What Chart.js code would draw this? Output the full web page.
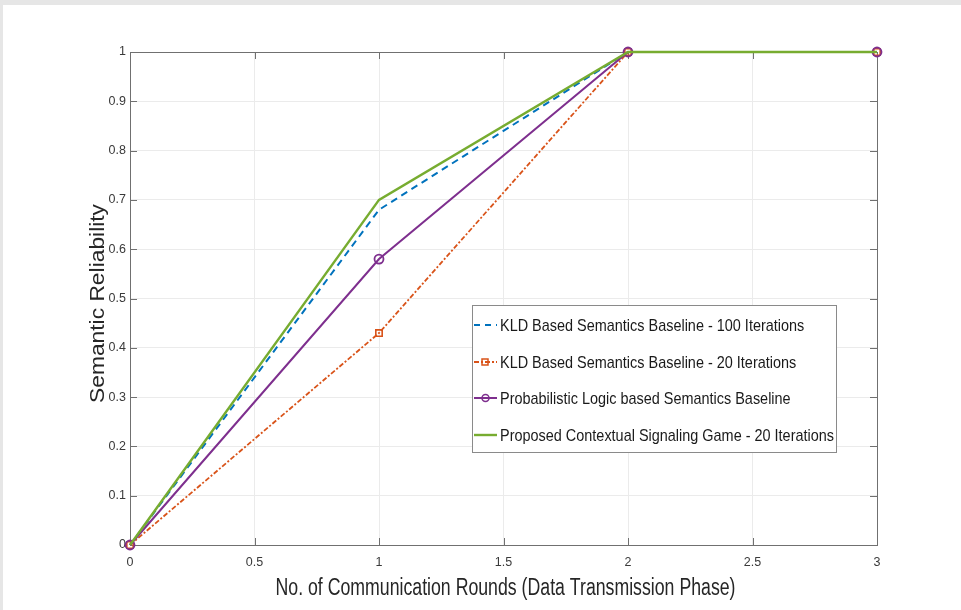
<!DOCTYPE html>
<html>
<head>
<meta charset="utf-8">
<script src="https://cdn.jsdelivr.net/npm/chart.js@4"></script>
<style>
  html, body { margin: 0; padding: 0; background: #e6e6e6; }
  #wrap { width: 961px; height: 610px; }
</style>
</head>
<body>
<div id="wrap"><canvas id="reliabilityChart" width="961" height="610"></canvas></div>
<script>
const rounds = [0, 1, 2, 3];
const kld100 = [0, 0.68, 1, 1];
const kld20 = [0, 0.43, 1, 1];
const probLogic = [0, 0.58, 1, 1];
const proposed = [0, 0.70, 1, 1];

const xTicks = [0, 0.5, 1, 1.5, 2, 2.5, 3];
const yTicks = [0, 0.1, 0.2, 0.3, 0.4, 0.5, 0.6, 0.7, 0.8, 0.9, 1];

const seriesLabels = [
  'KLD Based Semantics Baseline - 100 Iterations',
  'KLD Based Semantics Baseline - 20 Iterations',
  'Probabilistic Logic based Semantics Baseline',
  'Proposed Contextual Signaling Game - 20 Iterations',
];
const xTitle = 'No. of Communication Rounds (Data Transmission Phase)';
const yTitle = 'Semantic Reliability';

const axisColor = '#707070';
const FONT = '"Liberation Sans", Arial, sans-serif';

const toPoints = (vals) => vals.map((v, i) => ({ x: rounds[i], y: v }));

const datasets = [
  {
    label: seriesLabels[0],
    data: toPoints(kld100),
    borderColor: '#0072BD',
    borderWidth: 2,
    borderDash: [7, 5],
    pointRadius: 0,
    clip: false,
    order: 4,
  },
  {
    label: seriesLabels[1],
    data: toPoints(kld20),
    borderColor: '#D95319',
    borderWidth: 1.8,
    borderDash: [5, 2, 2, 2],
    pointStyle: 'rect',
    pointRadius: 4.5,
    pointBorderWidth: 1.6,
    pointBackgroundColor: 'rgba(0,0,0,0)',
    pointBorderColor: '#D95319',
    clip: false,
    order: 3,
  },
  {
    label: seriesLabels[2],
    data: toPoints(probLogic),
    borderColor: '#7E2F8E',
    borderWidth: 2,
    pointStyle: 'circle',
    pointRadius: 4.5,
    pointBorderWidth: 1.8,
    pointBackgroundColor: 'rgba(0,0,0,0)',
    pointBorderColor: '#7E2F8E',
    clip: false,
    order: 2,
  },
  {
    label: seriesLabels[3],
    data: toPoints(proposed),
    borderColor: '#77AC30',
    borderWidth: 2.4,
    pointRadius: 0,
    clip: false,
    order: 1,
  },
];

// squeeze text horizontally to a target width (MATLAB fonts are narrower)
function drawSqueezed(ctx, text, x, y, targetW, align) {
  const w = ctx.measureText(text).width;
  const s = targetW ? targetW / w : 1;
  ctx.save();
  ctx.translate(x, y);
  ctx.scale(s, 1);
  ctx.textAlign = align || 'left';
  ctx.fillText(text, 0, 0);
  ctx.restore();
}

const matlabLook = {
  id: 'matlabLook',
  beforeDraw(chart) {
    const ctx = chart.ctx;
    ctx.save();
    ctx.fillStyle = '#e6e6e6';
    ctx.fillRect(0, 0, chart.width, chart.height);
    ctx.fillStyle = '#ffffff';
    ctx.fillRect(3, 5, chart.width - 3, chart.height - 5);
    ctx.restore();
  },
  beforeDatasetsDraw(chart) {
    const ctx = chart.ctx;
    const { left, right, top, bottom } = chart.chartArea;
    const xs = chart.scales.x, ys = chart.scales.y;
    ctx.save();
    // box + inward ticks
    ctx.strokeStyle = axisColor;
    ctx.lineWidth = 1;
    ctx.strokeRect(left + 0.5, top + 0.5, right - left, bottom - top);
    ctx.beginPath();
    yTicks.forEach((v) => {
      const py = Math.round(ys.getPixelForValue(v)) + 0.5;
      ctx.moveTo(left, py); ctx.lineTo(left + 7, py);
      ctx.moveTo(right, py); ctx.lineTo(right - 7, py);
    });
    xTicks.forEach((v) => {
      const px = Math.round(xs.getPixelForValue(v)) + 0.5;
      ctx.moveTo(px, bottom); ctx.lineTo(px, bottom - 7);
      ctx.moveTo(px, top); ctx.lineTo(px, top + 7);
    });
    ctx.stroke();
    ctx.restore();
  },
  afterDatasetsDraw(chart) {
    const ctx = chart.ctx;
    const { left, right, top, bottom } = chart.chartArea;
    ctx.save();
    // axis titles
    ctx.fillStyle = '#262626';
    ctx.textBaseline = 'middle';
    ctx.font = '23px ' + FONT;
    drawSqueezed(ctx, xTitle, (left + right) / 2 + 2, 589, 460, 'center');
    ctx.font = '21px ' + FONT;
    ctx.save();
    ctx.translate(98, (top + bottom) / 2 + 5);
    ctx.rotate(-Math.PI / 2);
    drawSqueezed(ctx, yTitle, 0, 0, 199, 'center');
    ctx.restore();

    // legend box
    const lx = 472, ly = 305, lw = 364, lh = 147;
    ctx.fillStyle = '#ffffff';
    ctx.fillRect(lx, ly, lw, lh);
    ctx.strokeStyle = '#8a8a8a';
    ctx.lineWidth = 1;
    ctx.strokeRect(lx + 0.5, ly + 0.5, lw, lh);
    const rowY = [325, 362, 398, 435];
    ctx.font = '17px ' + FONT;
    const longest = ctx.measureText(seriesLabels[3]).width;
    const sq = 334 / longest;
    datasets.forEach((ds, i) => {
      const y = rowY[i];
      ctx.save();
      ctx.strokeStyle = ds.borderColor;
      ctx.lineWidth = ds.borderWidth;
      ctx.setLineDash(i === 0 ? [6, 5] : i === 1 ? [5, 2, 2, 2] : []);
      ctx.beginPath();
      ctx.moveTo(474, y); ctx.lineTo(497, y);
      ctx.stroke();
      ctx.setLineDash([]);
      ctx.lineWidth = 1.5;
      if (i === 1) ctx.strokeRect(482, y - 3, 6, 6);
      if (i === 2) { ctx.beginPath(); ctx.arc(485.5, y, 3.5, 0, Math.PI * 2); ctx.stroke(); }
      ctx.restore();
      ctx.fillStyle = '#1a1a1a';
      ctx.textBaseline = 'middle';
      const w = ctx.measureText(ds.label).width * sq;
      drawSqueezed(ctx, ds.label, 500, y + 1, w, 'left');
    });
    ctx.restore();
  },
};

const ctx = document.getElementById('reliabilityChart').getContext('2d');
new Chart(ctx, {
  type: 'line',
  data: { datasets: datasets },
  options: {
    responsive: false,
    animation: false,
    events: [],
    layout: { padding: { top: 52, right: 84, left: 0, bottom: 0 } },
    plugins: { legend: { display: false }, tooltip: { enabled: false } },
    elements: { line: { tension: 0 } },
    scales: {
      x: {
        type: 'linear',
        min: 0,
        max: 3,
        afterBuildTicks: (scale) => { scale.ticks = xTicks.map((v) => ({ value: v })); },
        afterFit: (scale) => { scale.height = 65; },
        border: { display: false },
        grid: { color: '#ebebeb', drawTicks: false },
        ticks: {
          color: '#3a3a3a',
          font: { family: FONT, size: 12.5 },
          padding: 10,
          maxRotation: 0,
          callback: (v) => String(v),
        },
      },
      y: {
        type: 'linear',
        min: 0,
        max: 1,
        afterBuildTicks: (scale) => { scale.ticks = yTicks.map((v) => ({ value: v })); },
        afterFit: (scale) => { scale.width = 130; },
        border: { display: false },
        grid: { color: '#ebebeb', drawTicks: false },
        ticks: {
          color: '#3a3a3a',
          font: { family: FONT, size: 12.5 },
          padding: 4,
          callback: (v) => String(Math.round(v * 10) / 10),
        },
      },
    },
  },
  plugins: [matlabLook],
});
</script>
</body>
</html>
